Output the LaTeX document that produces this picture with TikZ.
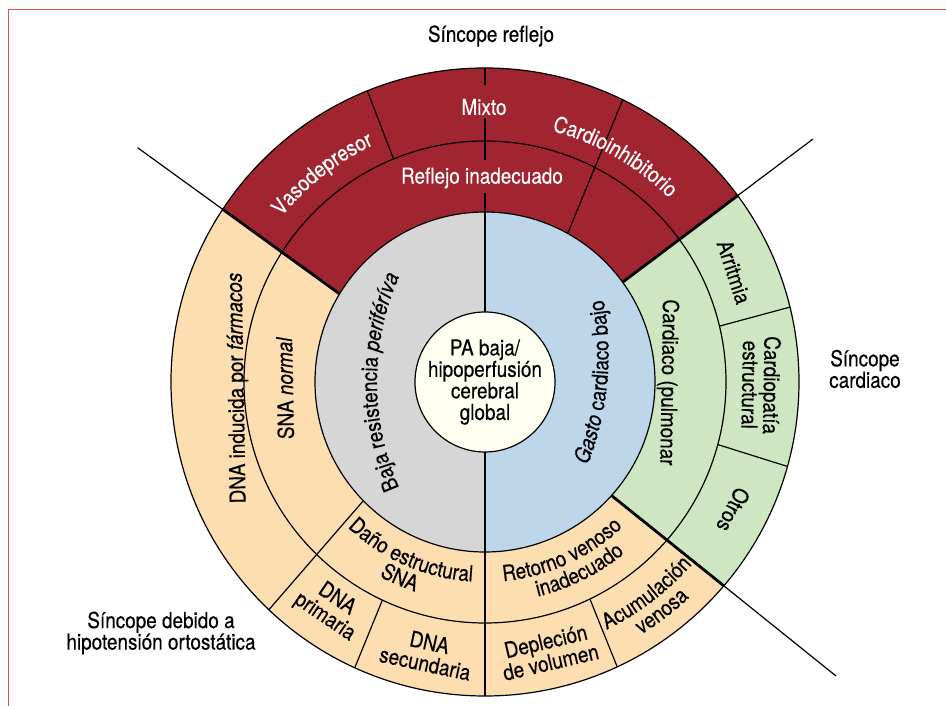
\documentclass[tikz,border=0pt]{standalone}
\usepackage{fontspec}
\setmainfont{TeX Gyre Heros}[FakeStretch=0.86, FakeBold=0.4]
\usetikzlibrary{decorations.text}
\definecolor{redsec}{RGB}{161,37,48}
\definecolor{orangesec}{RGB}{253,222,176}
\definecolor{greensec}{RGB}{207,230,195}
\definecolor{graysec}{RGB}{214,214,214}
\definecolor{bluesec}{RGB}{189,214,233}
\definecolor{ivorysec}{RGB}{255,255,242}
\definecolor{framered}{RGB}{222,78,88}
\newcommand\cf{\fontsize{22}{21.5}\selectfont}
\begin{document}
\begin{tikzpicture}[x=1pt,y=1pt,
  thinline/.style={line width=1.2pt, draw=black},
  thickline/.style={line width=2.8pt, draw=black},
  lbl/.style={font=\cf, inner sep=0pt, align=center},
  wlbl/.style={lbl, text=white}]
\useasboundingbox (-485,-324) rectangle (461,382);
% frame
\coordinate (fBL) at (-476,-324);
\coordinate (fTL) at (-476,372);
\coordinate (fTR) at (461,372);
\draw[framered, line width=1pt] (fBL) -- (fTL) -- (fTR);
% key points
\coordinate (O) at (0,0);
\coordinate (L1in) at (148.8:170);
\coordinate (L1out) at (-347.4,234.3);
\coordinate (L2in) at (35.95:170);
\coordinate (L2out) at (328,243);
\coordinate (L3in) at (-41.9:170);
\coordinate (L3out) at (351,-294);
% sector fills
\fill[orangesec] (O) circle (314);
\begin{scope}
  \clip (O) circle (314);
  \fill[redsec] (O) -- (L1in) -- (L1out) -- (-348,400) -- (328,400) -- (L2out) -- (L2in) -- cycle;
  \fill[greensec] (O) -- (L2in) -- (L2out) -- (460,243) -- (460,-294) -- (L3out) -- (L3in) -- cycle;
\end{scope}
\fill[graysec] (0,170) arc[start angle=90,end angle=270,radius=170] -- cycle;
\fill[bluesec] (0,-170) arc[start angle=-90,end angle=90,radius=170] -- cycle;
% ring outlines
\draw[thinline] (O) circle (170) (O) circle (241) (O) circle (314);
% dividers
\draw[thinline] (112.3:241) -- (112:314);
\draw[thinline] (60.9:170) -- (64:314);
\draw[thinline] (13.4:241) -- (13.8:314);
\draw[thinline] (-15.05:241) -- (-15.6:314);
\draw[thinline] (224.3:170) -- (226.5:314);
\draw[thinline] (244.8:241) -- (245.5:314);
\draw[thinline] (-64.2:241) -- (-65.1:314);
% main separating lines
\draw[thinline] (L1in) -- (L1out) (L2in) -- (L2out) (L3in) -- (L3out);
\begin{scope}
  \clip (O) circle (314);
  \draw[thickline] (L1in) -- (L1out) (L2in) -- (L2out) (L3in) -- (L3out);
\end{scope}
\draw[thickline] (0,314) -- (0,297) (0,264) -- (0,222) (0,189) -- (0,70) (0,-70) -- (0,-314);
% centre
\draw[thinline, fill=ivorysec] (O) circle (70);
\node[lbl] (pa) at (0,0) {PA baja/\\hipoperfusión\\cerebral\\global};
% outer labels
\node[lbl] (reflejo) at (6,346) {Síncope reflejo};
\node[lbl] (cardiaco) at (380,13) {Síncope\\cardiaco};
\node[lbl] (orto) at (-324,-251) {Síncope debido a\\hipotensión ortostática};
% red sector
\node[wlbl] (mixto) at (-1,275) {Mixto};
\node[wlbl] (inadec) at (-3,204) {Reflejo inadecuado};
\path[decorate, decoration={text along path, text align=center, text={|\cf\color{white}|Vasodepresor}}]
  (150:262) arc[start angle=150, end angle=106, radius=262];
\path[decorate, decoration={text along path, text align=center, text={|\cf\color{white}|Cardioinhibitorio}}]
  (85:260) arc[start angle=85, end angle=35, radius=260];
% inner half circles
\path[decorate, decoration={text along path, text align=center, text={|\cf|Baja resistencia |\cf\itshape|periféríva}}]
  (154,0) ++(210:262) arc[start angle=210, end angle=150, radius=262];
\path[decorate, decoration={text along path, text align=center, text={|\cf\itshape|Gasto |\cf\upshape|cardiaco bajo}}]
  (-176.4,27.4) ++(-25.5:300) arc[start angle=-25.5, end angle=14.5, radius=300];
% orange sector
\node[lbl, rotate=91] (snan) at (-200,-6) {SNA \textit{normal}};
\node[lbl, rotate=91] (dnaf) at (-247,-6) {DNA inducida por \textit{fármacos}};
\path[decorate, decoration={text along path, text align=center, text={|\cf|Daño estructural}}]
  (214:200) arc[start angle=214, end angle=279, radius=200];
\path[decorate, decoration={text along path, text align=center, text={|\cf|SNA}}]
  (226.5:221) arc[start angle=226.5, end angle=266.5, radius=221];
\node[lbl, rotate=-34.3] (dnap) at (235.7:274) {DNA\\primaria};
\node[lbl, rotate=-12] (dnas) at (258:277) {DNA\\secundaria};
\path[decorate, decoration={text along path, text align=center, text={|\cf|Retorno venoso}}]
  (-98:200) arc[start angle=-98, end angle=-33.2, radius=200];
\path[decorate, decoration={text along path, text align=center, text={|\cf|inadecuado}}]
  (-93.5:221) arc[start angle=-93.5, end angle=-33.5, radius=221];
\node[lbl, rotate=13.2] (deple) at (-76.8:277) {Depleción\\de volumen};
\path[decorate, decoration={text along path, text align=center, text={|\cf|Acumulación}}]
  (-77.6:276) arc[start angle=-77.6, end angle=-27.6, radius=276];
\path[decorate, decoration={text along path, text align=center, text={|\cf|venosa}}]
  (-72.4:297) arc[start angle=-72.4, end angle=-32.4, radius=297];
% green sector
\node[lbl, rotate=-91] (cpulm) at (182.5,-0.5) {Cardiaco (pulmonar};
\node[lbl, rotate=-72] (arrit) at (249,110) {Arritmia};
\node[lbl, rotate=-91] (cardiop) at (276,-3) {Cardiopatía\\estructural};
\node[lbl, rotate=-117] (otros) at (248.3,-128) {Otros};
\end{tikzpicture}
\end{document}
